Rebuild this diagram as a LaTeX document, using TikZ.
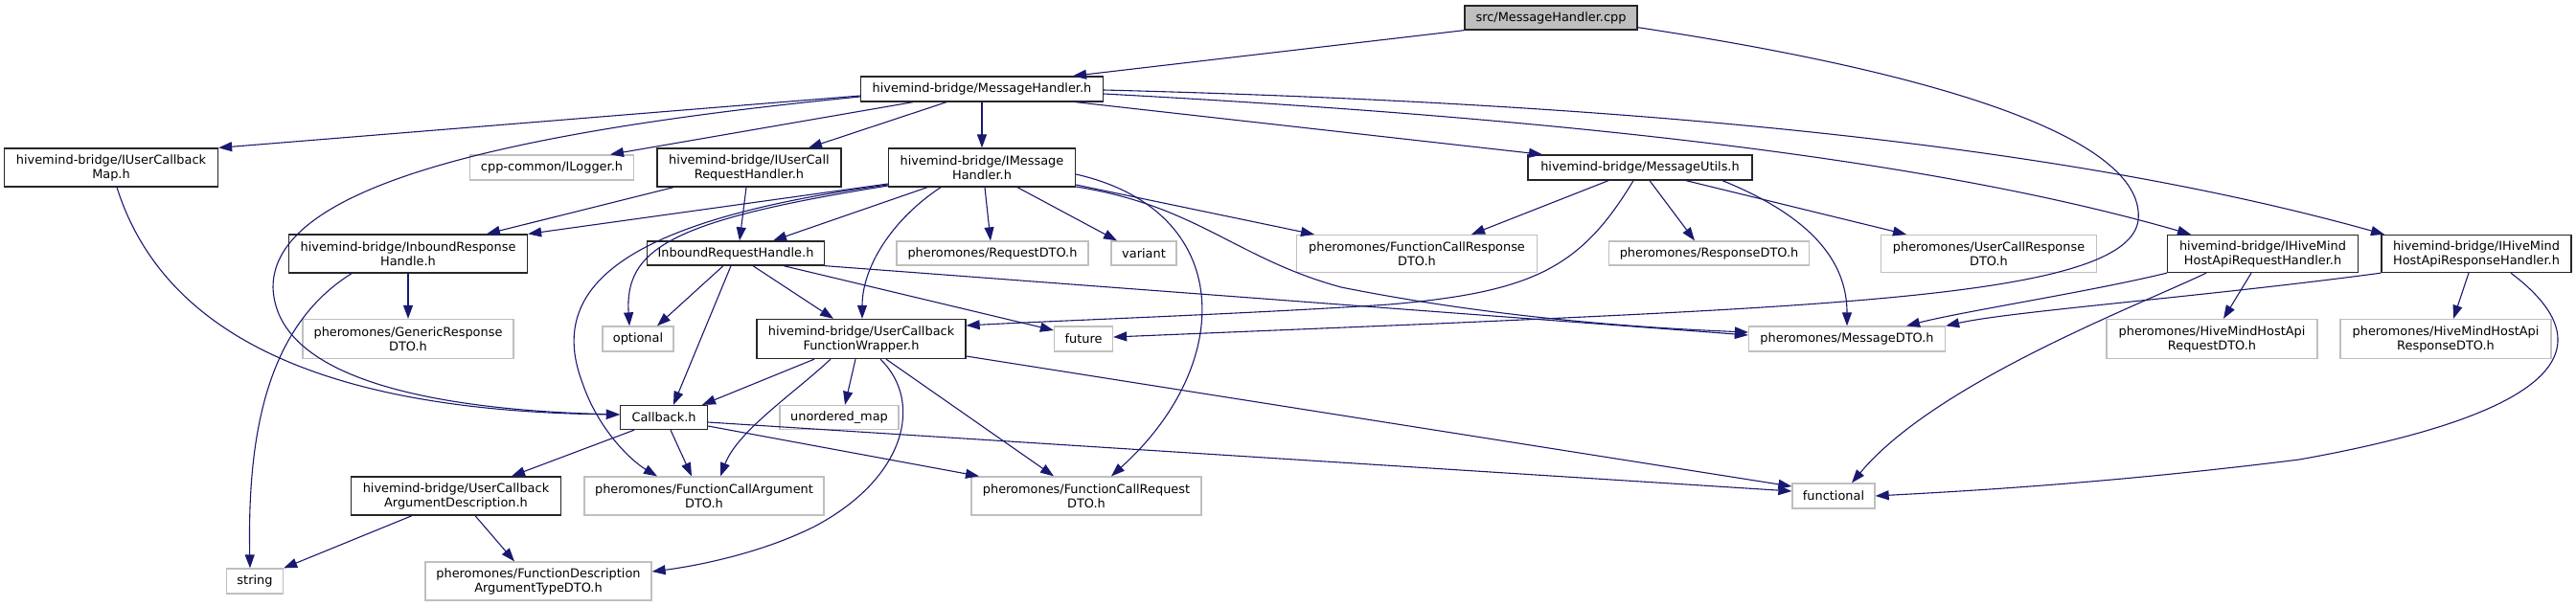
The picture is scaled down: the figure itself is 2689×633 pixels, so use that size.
\documentclass[tikz,border=0pt]{standalone}
\usepackage{fontspec}
\setmainfont{DejaVu Sans}
\usetikzlibrary{arrows.meta}
\definecolor{edgeblue}{HTML}{191970}
\definecolor{grey75}{HTML}{BFBFBF}

\begin{document}
\begin{tikzpicture}[x=1pt,y=-1pt,
    hdr/.style={draw=black!85,fill=white,line width=1.3pt,inner sep=0pt,align=center,
      font=\fontsize{12.9}{15}\selectfont},
    ext/.style={hdr,draw=grey75},
    root/.style={hdr,fill=grey75},
    dep/.style={draw=edgeblue,line width=1.1pt,->},
    >={Triangle[length=14pt,width=10pt]}]
  \useasboundingbox (0,0) rectangle (2689,633);

  % files
  \node[root,minimum width=180pt,minimum height=25pt] (cpp) at (1619,18.5) {src/MessageHandler.cpp};
  \node[hdr,minimum width=253pt,minimum height=26pt] (mh) at (1025,93) {hivemind-bridge/MessageHandler.h};
  \node[hdr,minimum width=223pt,minimum height=40pt] (ucbmap) at (116,175) {hivemind-bridge/IUserCallback\\Map.h};
  \node[ext,minimum width=171pt,minimum height=26pt] (logger) at (576,175) {cpp-common/ILogger.h};
  \node[hdr,minimum width=192pt,minimum height=40pt] (ucreq) at (782,175) {hivemind-bridge/IUserCall\\RequestHandler.h};
  \node[hdr,minimum width=195pt,minimum height=40pt] (imh) at (1025,175) {hivemind-bridge/IMessage\\Handler.h};
  \node[hdr,minimum width=234pt,minimum height=26pt] (mu) at (1712,175) {hivemind-bridge/MessageUtils.h};
  \node[hdr,minimum width=249pt,minimum height=40pt] (irsp) at (426,265) {hivemind-bridge/InboundResponse\\Handle.h};
  \node[hdr,minimum width=185pt,minimum height=25pt] (irh) at (768,264.5) {InboundRequestHandle.h};
  \node[ext,minimum width=200pt,minimum height=25pt] (reqdto) at (1036,264.5) {pheromones/RequestDTO.h};
  \node[ext,minimum width=68pt,minimum height=25pt] (variant) at (1194,264.5) {variant};
  \node[ext,minimum width=251pt,minimum height=39pt] (fcrsp) at (1479,265) {pheromones/FunctionCallResponse\\DTO.h};
  \node[ext,minimum width=209pt,minimum height=25pt] (rspdto) at (1784,264.5) {pheromones/ResponseDTO.h};
  \node[ext,minimum width=225pt,minimum height=39pt] (ucrsp) at (2076,265) {pheromones/UserCallResponse\\DTO.h};
  \node[hdr,minimum width=199pt,minimum height=39pt] (hreq) at (2362,265) {hivemind-bridge/IHiveMind\\HostApiRequestHandler.h};
  \node[hdr,minimum width=198pt,minimum height=39pt] (hrsp) at (2585,265) {hivemind-bridge/IHiveMind\\HostApiResponseHandler.h};
  \node[ext,minimum width=220pt,minimum height=41pt] (gen) at (426,354) {pheromones/GenericResponse\\DTO.h};
  \node[ext,minimum width=74pt,minimum height=26pt] (optional) at (666,354) {optional};
  \node[hdr,minimum width=218pt,minimum height=41pt] (ucfw) at (899,354) {hivemind-bridge/UserCallback\\FunctionWrapper.h};
  \node[ext,minimum width=61pt,minimum height=26pt] (future) at (1131,354) {future};
  \node[ext,minimum width=205pt,minimum height=26pt] (msgdto) at (1928,354) {pheromones/MessageDTO.h};
  \node[ext,minimum width=220pt,minimum height=41pt] (hreqdto) at (2309,354) {pheromones/HiveMindHostApi\\RequestDTO.h};
  \node[ext,minimum width=220pt,minimum height=41pt] (hrspdto) at (2553,354) {pheromones/HiveMindHostApi\\ResponseDTO.h};
  \node[hdr,minimum width=91pt,minimum height=25pt] (callback) at (693,436) {Callback.h};
  \node[ext,minimum width=124pt,minimum height=25pt] (umap) at (876,436) {unordered\_map};
  \node[hdr,minimum width=219pt,minimum height=40pt] (ucad) at (476,518) {hivemind-bridge/UserCallback\\ArgumentDescription.h};
  \node[ext,minimum width=250pt,minimum height=40pt] (fcarg) at (735,518) {pheromones/FunctionCallArgument\\DTO.h};
  \node[ext,minimum width=240pt,minimum height=40pt] (fcreq) at (1134,518) {pheromones/FunctionCallRequest\\DTO.h};
  \node[ext,minimum width=86pt,minimum height=26pt] (functional) at (1914,518) {functional};
  \node[ext,minimum width=59pt,minimum height=26pt] (string) at (266,607) {string};
  \node[ext,minimum width=236pt,minimum height=40pt] (fdesc) at (562,607) {pheromones/FunctionDescription\\ArgumentTypeDTO.h};

  % src/MessageHandler.cpp
  \draw[dep] (cpp.south west) -- ([xshift=95pt]mh.north);
  \draw[dep] ([yshift=3pt]cpp.south east) .. controls (2050,80) and (2240,150) .. (2232,230)
    .. controls (2222,305) and (1950,318) .. (1500,338) -- ([yshift=2pt]future.east);

  % MessageHandler.h
  \draw[dep] ([yshift=-7pt]mh.west) -- (ucbmap.north east);
  \draw[dep] ([yshift=-8pt]mh.west) .. controls (500,140) and (285,200) .. (285,300)
    .. controls (288,395) and (450,428) .. ([yshift=3pt]callback.west);
  \draw[dep] ([xshift=-72pt]mh.south) -- ([xshift=61pt]logger.north);
  \draw[dep] ([xshift=-37pt]mh.south) -- ([xshift=62pt]ucreq.north);
  \draw[dep] (mh) -- (imh);
  \draw[dep] ([xshift=98pt]mh.south) -- ([xshift=-102pt]mu.north);
  \draw[dep] ([yshift=-5pt]mh.east) .. controls (1600,122) and (2000,162) .. ([xshift=-75pt]hreq.north);
  \draw[dep] ([yshift=-1pt]mh.east) .. controls (1700,108) and (2150,150) .. ([xshift=-96pt]hrsp.north);

  % IUserCallbackMap.h
  \draw[dep] ([xshift=6pt]ucbmap.south) .. controls (180,380) and (400,430) .. ([yshift=3pt]callback.west);

  % IUserCallRequestHandler.h
  \draw[dep] ([xshift=-79pt]ucreq.south) -- ([xshift=82pt]irsp.north);
  \draw[dep] ([xshift=-3pt]ucreq.south) -- ([xshift=4pt]irh.north);

  % IMessageHandler.h
  \draw[dep] ([yshift=-17pt]imh.west) -- (irsp.north east);
  \draw[dep] ([xshift=-57pt]imh.south) -- ([xshift=39pt]irh.north);
  \draw[dep] ([yshift=-19pt]imh.west) .. controls (700,230) and (652,260) .. ([xshift=-9pt]optional.north);
  \draw[dep] ([yshift=-18pt]imh.west) .. controls (650,230) and (570,300) .. (608,400)
    .. controls (625,450) and (660,482) .. ([xshift=-49pt]fcarg.north);
  \draw[dep] ([xshift=3pt]imh.south) -- ([xshift=-2pt]reqdto.north);
  \draw[dep] ([xshift=37pt]imh.south) -- ([xshift=-28pt]variant.north);
  \draw[dep] ([yshift=-18pt]imh.east) -- ([xshift=-107pt]fcrsp.north);
  \draw[dep] ([xshift=-43pt]imh.south) .. controls (930,230) and (900,280) .. ([xshift=1pt]ucfw.north);
  \draw[dep] ([yshift=-20pt]imh.east) .. controls (1250,215) and (1290,270) .. (1400,300)
    .. controls (1550,330) and (1700,342) .. ([yshift=7pt]msgdto.west);
  \draw[dep] ([yshift=-7pt]imh.east) .. controls (1290,220) and (1290,380) .. ([xshift=26pt]fcreq.north);

  % InboundRequestHandle.h
  \draw[dep] ([xshift=-13pt]irh.south) -- ([xshift=20pt]optional.north);
  \draw[dep] ([xshift=-5pt]irh.south) -- ([xshift=10pt]callback.north);
  \draw[dep] ([xshift=18pt]irh.south) -- ([xshift=-29pt]ucfw.north);
  \draw[dep] ([xshift=50pt]irh.south) -- ([yshift=9pt]future.west);
  \draw[dep] (irh.south east) -- ([yshift=4pt]msgdto.west);

  % UserCallbackFunctionWrapper.h
  \draw[dep] ([xshift=-49pt]ucfw.south) -- ([xshift=40pt]callback.north);
  \draw[dep] ([xshift=-32pt]ucfw.south) .. controls (830,410) and (770,450) .. ([xshift=17pt]fcarg.north);
  \draw[dep] ([xshift=-6pt]ucfw.south) -- ([xshift=6pt]umap.north);
  \draw[dep] ([xshift=26pt]ucfw.south) -- ([xshift=-34pt]fcreq.north);
  \draw[dep] ([xshift=20pt]ucfw.south) .. controls (965,420) and (945,500) .. (850,550)
    .. controls (790,580) and (720,592) .. ([yshift=10pt]fdesc.east);
  \draw[dep] ([yshift=-18pt]ucfw.east) -- ([yshift=10pt]functional.west);

  % Callback.h
  \draw[dep] ([xshift=-31pt]callback.south) -- ([xshift=58pt]ucad.north);
  \draw[dep] ([xshift=7pt]callback.south) -- ([xshift=-13pt]fcarg.north);
  \draw[dep] ([yshift=-9pt]callback.east) -- ([xshift=-112pt]fcreq.north);
  \draw[dep] ([yshift=-5pt]callback.east) -- ([yshift=5pt]functional.west);

  % UserCallbackArgumentDescription.h
  \draw[dep] ([xshift=-46pt]ucad.south) -- (string.north east);
  \draw[dep] ([xshift=20pt]ucad.south) -- ([xshift=-25pt]fdesc.north);

  % InboundResponseHandle.h
  \draw[dep] (irsp) -- (gen);
  \draw[dep] ([xshift=-59pt]irsp.south) .. controls (280,340) and (258,450) .. ([xshift=-5pt]string.north);

  % MessageUtils.h
  \draw[dep] ([xshift=-33pt]mu.south) -- ([xshift=57pt]fcrsp.north);
  \draw[dep] ([xshift=-7pt]mu.south) .. controls (1650,280) and (1600,305) .. (1450,318)
    .. controls (1300,328) and (1100,335) .. ([yshift=14pt]ucfw.east);
  \draw[dep] ([xshift=10pt]mu.south) -- ([xshift=-15pt]rspdto.north);
  \draw[dep] ([xshift=48pt]mu.south) -- ([xshift=-86pt]ucrsp.north);
  \draw[dep] ([xshift=86pt]mu.south) .. controls (1900,230) and (1928,280) .. (msgdto.north);

  % IHiveMindHostApiRequestHandler.h
  \draw[dep] (hreq.south west) .. controls (2180,305) and (2050,325) .. ([xshift=62pt]msgdto.north);
  \draw[dep] ([xshift=-59pt]hreq.south) .. controls (2230,320) and (2020,400) .. ([xshift=19pt]functional.north);
  \draw[dep] ([xshift=-12pt]hreq.south) -- ([xshift=12pt]hreqdto.north);

  % IHiveMindHostApiResponseHandler.h
  \draw[dep] (hrsp.south west) .. controls (2300,310) and (2100,325) .. (msgdto.north east);
  \draw[dep] ([xshift=-8pt]hrsp.south) -- ([xshift=8pt]hrspdto.north);
  \draw[dep] ([xshift=36pt]hrsp.south) .. controls (2720,360) and (2680,430) .. (2400,480)
    .. controls (2200,505) and (2050,513) .. (functional.east);
\end{tikzpicture}
\end{document}
